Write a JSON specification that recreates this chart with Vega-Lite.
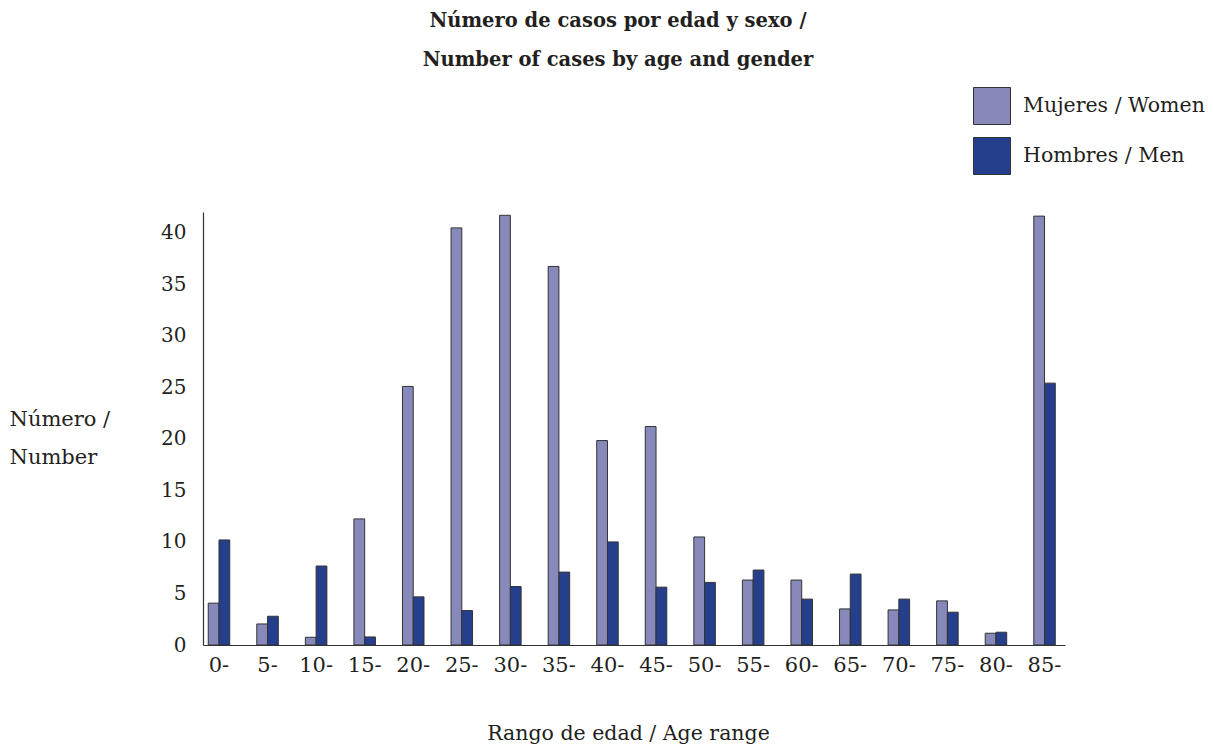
{
  "$schema": "https://vega.github.io/schema/vega-lite/v6.json",
  "width": 862,
  "height": 433,
  "autosize": {"type": "none"},
  "padding": {"left": 203, "top": 212, "right": 148, "bottom": 99},
  "background": "white",
  "title": {
    "text": ["Número de casos por edad y sexo /", "Number of cases by age and gender"],
    "font": "DejaVu Serif",
    "fontWeight": "bold",
    "fontSize": 19.5,
    "color": "#231f20",
    "lineHeight": 39,
    "anchor": "middle",
    "frame": "bounds",
    "baseline": "alphabetic",
    "dx": 415,
    "dy": -185,
    "orient": "none"
  },
  "data": {
    "values": [
      {"age": "0-", "sex": "Mujeres / Women", "n": 4.06},
      {"age": "0-", "sex": "Hombres / Men", "n": 10.19},
      {"age": "5-", "sex": "Mujeres / Women", "n": 2.04},
      {"age": "5-", "sex": "Hombres / Men", "n": 2.79},
      {"age": "10-", "sex": "Mujeres / Women", "n": 0.75},
      {"age": "10-", "sex": "Hombres / Men", "n": 7.66},
      {"age": "15-", "sex": "Mujeres / Women", "n": 12.23},
      {"age": "15-", "sex": "Hombres / Men", "n": 0.78},
      {"age": "20-", "sex": "Mujeres / Women", "n": 25.08},
      {"age": "20-", "sex": "Hombres / Men", "n": 4.67},
      {"age": "25-", "sex": "Mujeres / Women", "n": 40.46},
      {"age": "25-", "sex": "Hombres / Men", "n": 3.34},
      {"age": "30-", "sex": "Mujeres / Women", "n": 41.68},
      {"age": "30-", "sex": "Hombres / Men", "n": 5.67},
      {"age": "35-", "sex": "Mujeres / Women", "n": 36.72},
      {"age": "35-", "sex": "Hombres / Men", "n": 7.07},
      {"age": "40-", "sex": "Mujeres / Women", "n": 19.83},
      {"age": "40-", "sex": "Hombres / Men", "n": 10.0},
      {"age": "45-", "sex": "Mujeres / Women", "n": 21.19},
      {"age": "45-", "sex": "Hombres / Men", "n": 5.61},
      {"age": "50-", "sex": "Mujeres / Women", "n": 10.48},
      {"age": "50-", "sex": "Hombres / Men", "n": 6.07},
      {"age": "55-", "sex": "Mujeres / Women", "n": 6.3},
      {"age": "55-", "sex": "Hombres / Men", "n": 7.27},
      {"age": "60-", "sex": "Mujeres / Women", "n": 6.3},
      {"age": "60-", "sex": "Hombres / Men", "n": 4.45},
      {"age": "65-", "sex": "Mujeres / Women", "n": 3.5},
      {"age": "65-", "sex": "Hombres / Men", "n": 6.88},
      {"age": "70-", "sex": "Mujeres / Women", "n": 3.4},
      {"age": "70-", "sex": "Hombres / Men", "n": 4.45},
      {"age": "75-", "sex": "Mujeres / Women", "n": 4.28},
      {"age": "75-", "sex": "Hombres / Men", "n": 3.18},
      {"age": "80-", "sex": "Mujeres / Women", "n": 1.14},
      {"age": "80-", "sex": "Hombres / Men", "n": 1.24},
      {"age": "85-", "sex": "Mujeres / Women", "n": 41.6},
      {"age": "85-", "sex": "Hombres / Men", "n": 25.4}
    ]
  },
  "mark": {"type": "bar", "stroke": "#333333", "strokeWidth": 1},
  "encoding": {
    "x": {
      "field": "age",
      "type": "nominal",
      "sort": null,
      "scale": {"paddingInner": 0.557, "paddingOuter": 0.154, "align": 0.35},
      "axis": {
        "title": "Rango de edad / Age range",
        "titleFont": "DejaVu Serif",
        "titleFontSize": 20.5,
        "titleFontWeight": "normal",
        "titleColor": "#231f20",
        "titleX": 425,
        "titleY": 94,
        "titleBaseline": "alphabetic",
        "labelFont": "DejaVu Serif",
        "labelFontSize": 21,
        "labelColor": "#231f20",
        "labelAngle": 0,
        "labelPadding": 9,
        "ticks": false,
        "domainColor": "#333333",
        "domainWidth": 1.2,
        "grid": false
      }
    },
    "xOffset": {
      "field": "sex",
      "type": "nominal",
      "sort": ["Mujeres / Women", "Hombres / Men"],
      "scale": {"paddingInner": 0, "paddingOuter": 0}
    },
    "y": {
      "field": "n",
      "type": "quantitative",
      "scale": {"domain": [0, 42], "nice": false},
      "axis": {
        "title": ["Número /", "Number"],
        "titleFont": "DejaVu Serif",
        "titleFontSize": 21,
        "titleFontWeight": "normal",
        "titleColor": "#231f20",
        "titleAngle": 0,
        "titleAlign": "left",
        "titleBaseline": "alphabetic",
        "titleLineHeight": 38,
        "titleX": -194,
        "titleY": 213,
        "values": [0, 5, 10, 15, 20, 25, 30, 35, 40],
        "labelFont": "DejaVu Serif",
        "labelFontSize": 20,
        "labelColor": "#231f20",
        "labelPadding": 17,
        "ticks": false,
        "domainColor": "#333333",
        "domainWidth": 1.2,
        "grid": false
      }
    },
    "color": {
      "field": "sex",
      "type": "nominal",
      "sort": ["Mujeres / Women", "Hombres / Men"],
      "scale": {"domain": ["Mujeres / Women", "Hombres / Men"], "range": ["#8789ba", "#253f8d"]},
      "legend": {
        "title": null,
        "orient": "none",
        "legendX": 770,
        "legendY": -125,
        "symbolType": "square",
        "symbolSize": 1369,
        "symbolStrokeColor": "#333333",
        "symbolStrokeWidth": 1,
        "labelFont": "DejaVu Serif",
        "labelFontSize": 20.5,
        "labelColor": "#231f20",
        "labelLimit": 0,
        "labelOffset": 12,
        "rowPadding": 8
      }
    }
  },
  "config": {
    "view": {"stroke": null}
  }
}
